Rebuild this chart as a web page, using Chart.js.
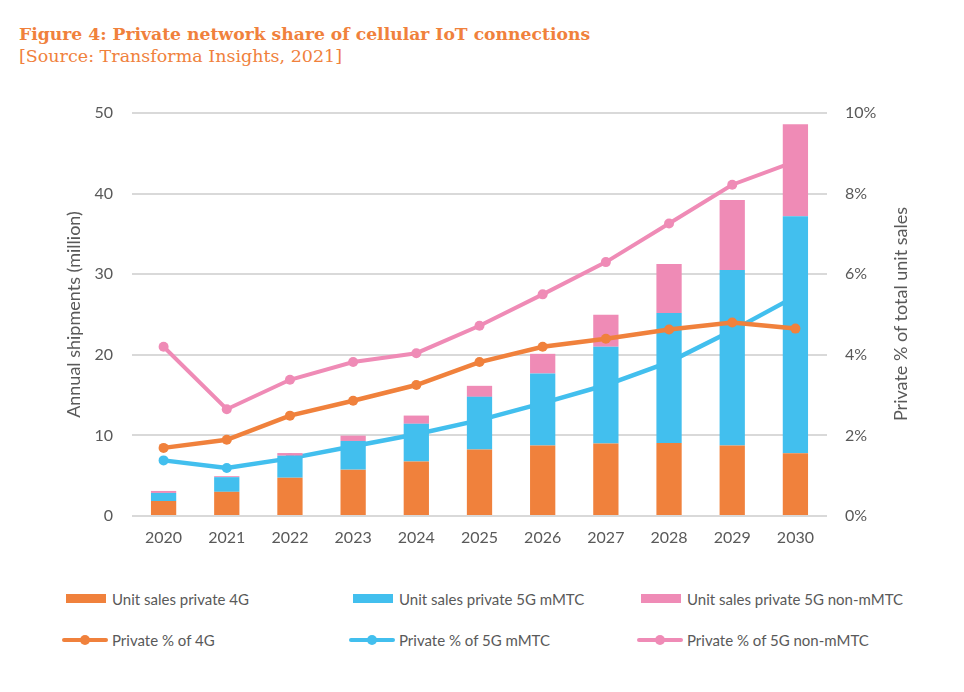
<!DOCTYPE html>
<html>
<head>
<meta charset="utf-8">
<title>Private network share of cellular IoT connections</title>
<script src="https://cdn.jsdelivr.net/npm/chart.js@4.4.1/dist/chart.umd.min.js"></script>
<style>
    html, body { margin: 0; padding: 0; background: #fff; }
    #pagina { position: relative; width: 964px; height: 692px; overflow: hidden; font-family: Lato, sans-serif; }
    .titulo { position: absolute; left: 19px; top: 26px; font-family: "DejaVu Serif", serif; font-weight: bold; font-size: 17.2px; line-height: 1; color: #F0813C; white-space: nowrap; }
    .fonte { position: absolute; left: 19px; top: 48px; font-family: "DejaVu Serif", serif; font-size: 17.5px; line-height: 1; color: #F0813C; white-space: nowrap; }
    #grafico { position: absolute; left: 0; top: 90px; }
    .eixo-dir { position: absolute; left: 900px; top: 314px; width: 300px; margin-left: -150px; margin-top: -11px; height: 22px; line-height: 22px; text-align: center; font-size: 18px; color: #595959; transform: rotate(-90deg); white-space: nowrap; }
    .leg { position: absolute; height: 20px; font-size: 15px; line-height: 20px; color: #595959; white-space: nowrap; }
    .leg .caixa { position: absolute; top: 5px; width: 40px; height: 9px; }
    .leg .linha { position: absolute; top: 8px; width: 46px; height: 4px; border-radius: 2px; }
    .leg .ponto { position: absolute; top: 5px; width: 10px; height: 10px; border-radius: 5px; }
</style>
</head>
<body>
<div id="pagina">
    <div class="titulo">Figure 4: Private network share of cellular IoT connections</div>
    <div class="fonte">[Source: Transforma Insights, 2021]</div>
    <canvas id="grafico" width="964" height="470"></canvas>
    <div class="eixo-dir">Private % of total unit sales</div>
    <div id="legenda"></div>
</div>
<script>
// dados
var anos = ["2020", "2021", "2022", "2023", "2024", "2025", "2026", "2027", "2028", "2029", "2030"];

// vendas em milhoes (barras empilhadas)
var vendas4G = [1.86, 3.0, 4.75, 5.75, 6.75, 8.25, 8.75, 9.0, 9.05, 8.75, 7.8];
var vendas5GmMTC = [1.0, 1.82, 2.73, 3.56, 4.69, 6.53, 8.93, 12.0, 16.13, 21.77, 29.4];
var vendas5GnaoMTC = [0.25, 0.12, 0.33, 0.66, 1.02, 1.37, 2.44, 3.97, 6.08, 8.7, 11.4];

// percentual privado (linhas, eixo direito)
var pct4G = [1.69, 1.89, 2.49, 2.86, 3.25, 3.82, 4.2, 4.4, 4.63, 4.8, 4.65];
var pct5GmMTC = [1.38, 1.19, 1.43, 1.73, 2.03, 2.38, 2.8, 3.25, 3.82, 4.6, 5.45];
var pct5GnaoMTC = [4.2, 2.65, 3.38, 3.82, 4.04, 4.72, 5.5, 6.3, 7.26, 8.22, 8.8];

var legendas = [
    "Unit sales private 4G", "Unit sales private 5G mMTC", "Unit sales private 5G non-mMTC",
    "Private % of 4G", "Private % of 5G mMTC", "Private % of 5G non-mMTC"
];

var eixoEsqMax = 50, eixoEsqPasso = 10;
var eixoDirMax = 10, eixoDirPasso = 2;

var laranja = "#F0813C";
var azul = "#42BFEE";
var rosa = "#EF8BB6";
var cinza = "#595959";

function barra(rotulo, cor, valores) {
    return {
        type: 'bar',
        label: rotulo,
        backgroundColor: cor,
        data: valores,
        stack: 'vendas',
        yAxisID: 'y',
        barPercentage: 0.4,
        categoryPercentage: 1.0,
        order: 1
    };
}

function linha(rotulo, cor, valores, largura, ordem) {
    return {
        type: 'line',
        label: rotulo,
        borderColor: cor,
        backgroundColor: cor,
        pointBackgroundColor: cor,
        pointBorderWidth: 0,
        pointRadius: 5,
        borderWidth: largura,
        tension: 0,
        fill: false,
        data: valores,
        yAxisID: 'y1',
        order: ordem
    };
}

function montarLegenda(grafico) {
    var colunas = [112, 399, 687];
    var linhas = [589, 630];
    var html = "";
    grafico.data.datasets.forEach(function (ds, i) {
        var x = colunas[i % 3];
        var y = linhas[Math.floor(i / 3)];
        var marca;
        if (ds.type === 'bar') {
            marca = '<span class="caixa" style="left:-46px;background:' + ds.backgroundColor + '"></span>';
        } else {
            marca = '<span class="linha" style="left:-50px;background:' + ds.borderColor + '"></span>' +
                    '<span class="ponto" style="left:-32px;background:' + ds.borderColor + '"></span>';
        }
        html += '<div class="leg" style="left:' + x + 'px;top:' + y + 'px">' + marca + ds.label + '</div>';
    });
    document.getElementById("legenda").innerHTML = html;
}

function montarGrafico() {
    var grafico = new Chart(document.getElementById("grafico"), {
        type: 'bar',
        data: {
            labels: anos,
            datasets: [
                barra(legendas[0], laranja, vendas4G),
                barra(legendas[1], azul, vendas5GmMTC),
                barra(legendas[2], rosa, vendas5GnaoMTC),
                linha(legendas[3], laranja, pct4G, 4.5, 0),
                linha(legendas[4], azul, pct5GmMTC, 4.5, 2),
                linha(legendas[5], rosa, pct5GnaoMTC, 4, 2)
            ]
        },
        options: {
            responsive: false,
            animation: false,
            events: [],
            layout: { padding: { left: 55, right: 45, top: 23, bottom: 0 } },
            plugins: {
                legend: { display: false },
                tooltip: { enabled: false }
            },
            scales: {
                x: {
                    stacked: true,
                    grid: { display: false, drawTicks: false },
                    border: { display: false },
                    ticks: { color: cinza, font: { family: 'Lato', size: 16 }, padding: 12, maxRotation: 0 },
                    afterFit: function (s) { s.height = 44; }
                },
                y: {
                    stacked: true,
                    position: 'left',
                    min: 0,
                    max: eixoEsqMax,
                    ticks: { stepSize: eixoEsqPasso, color: cinza, font: { family: 'Lato', size: 16 }, padding: 0 },
                    grid: { color: '#D9D9D9', lineWidth: 2, drawTicks: true, tickLength: 19, tickColor: 'transparent' },
                    border: { display: false },
                    title: {
                        display: true,
                        text: 'Annual shipments (million)',
                        color: cinza,
                        font: { family: 'Lato', size: 18 },
                        padding: { top: 8, bottom: 0 }
                    },
                    afterFit: function (s) { s.width = 132 - 55; }
                },
                y1: {
                    stacked: false,
                    position: 'right',
                    min: 0,
                    max: eixoDirMax,
                    ticks: {
                        stepSize: eixoDirPasso, color: cinza, font: { family: 'Lato', size: 16 }, padding: 0,
                        callback: function (v) { return v + '%'; }
                    },
                    grid: { display: false, drawTicks: true, tickLength: 18 },
                    border: { display: false },
                    afterFit: function (s) { s.width = 964 - 45 - 827; }
                }
            }
        }
    });
    montarLegenda(grafico);
}

montarGrafico();
</script>
</body>
</html>
